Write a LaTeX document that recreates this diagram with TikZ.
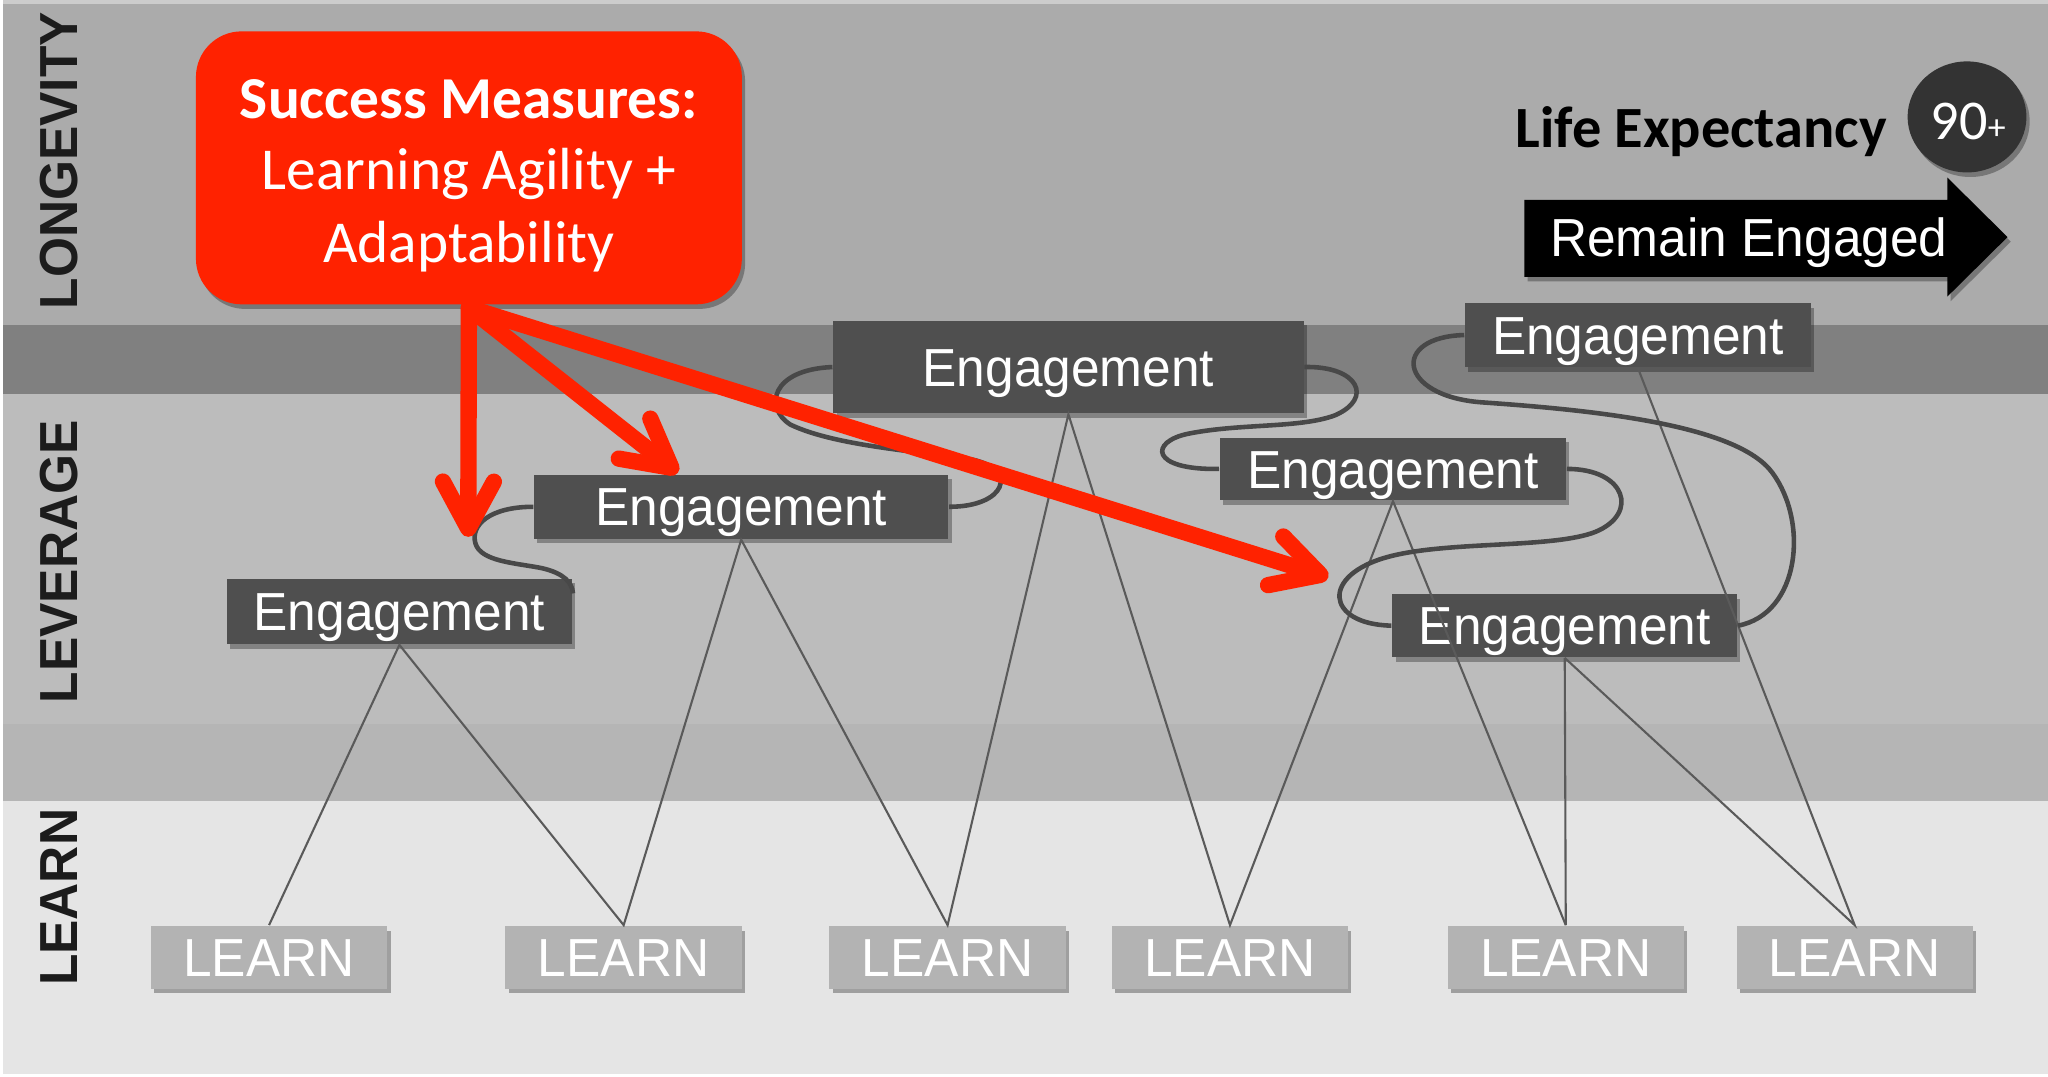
\documentclass[tikz,border=0pt]{standalone}
\usepackage{fontspec}
\setmainfont{Liberation Sans}
\newfontfamily\calfont{Carlito}
\usetikzlibrary{arrows.meta,shadows,shapes.geometric}
\definecolor{redA}{HTML}{FF2200}
\definecolor{bandTop}{HTML}{ABABAB}
\definecolor{bandDark}{HTML}{808080}
\definecolor{bandLev}{HTML}{BCBCBC}
\definecolor{bandMid}{HTML}{B5B5B5}
\definecolor{bandLearn}{HTML}{E5E5E5}
\definecolor{engFill}{HTML}{4F4F4F}
\definecolor{learnFill}{HTML}{B3B3B3}
\definecolor{lineGray}{HTML}{5A5A5A}
\definecolor{curveGray}{HTML}{484848}
\definecolor{circFill}{HTML}{333333}
\definecolor{labelInk}{HTML}{1C1C1C}
\newcommand\narrowtxt[1]{\scalebox{0.96}[1]{#1}}
\begin{document}
\begin{tikzpicture}[x=0.1mm,y=-0.1mm,
  boxshadow/.style={drop shadow={shadow xshift=0.25mm,shadow yshift=-0.35mm,opacity=0.3,fill=black}},
  arialtxt/.style={font=\fontsize{11.67pt}{14pt}\selectfont,text height=2.94mm,text depth=0pt},
  engbox/.style={fill=engFill,text=white,inner sep=0pt,minimum height=4.8mm,arialtxt,boxshadow},
  learnbox/.style={fill=learnFill,text=white,inner sep=0pt,minimum width=18.1mm,minimum height=4.8mm,arialtxt,boxshadow},
  sidelabel/.style={rotate=90,text=labelInk,inner sep=0pt,font=\fontsize{11.67pt}{14pt}\selectfont\bfseries,text height=2.94mm,text depth=0pt},
  legline/.style={draw=lineGray,line width=0.16mm},
  wiggle/.style={draw=curveGray,line width=0.35mm},
  redarrow/.style={draw=redA,line width=1.25mm,line cap=round,-{Straight Barb[length=3.6mm,width=3.9mm,round]}},
  carl/.style={anchor=base,inner sep=0pt,font=\calfont\fontsize{12.95pt}{15pt}\selectfont},
  ]
\useasboundingbox (0,0) rectangle (1568,824);
% background bands
\fill[white] (0,0) rectangle (1568,824);
\fill[bandTop] (2,0) rectangle (1568,249);
\fill[black!20] (2,0) rectangle (1568,3);
\fill[bandDark] (2,249) rectangle (1568,302);
\fill[bandLev] (2,302) rectangle (1568,554);
\fill[bandMid] (2,554) rectangle (1568,613);
\fill[bandLearn] (2,613) rectangle (1568,822);
% side labels
\node[sidelabel] (lbLong) at (45,123) {\narrowtxt{LONGEVITY}};
\node[sidelabel] (lbLev) at (45,430) {\narrowtxt{LEVERAGE}};
\node[sidelabel] (lbLearn) at (45,687) {\narrowtxt{LEARN}};
% success box
\node[fill=redA,rounded corners=3.5mm,minimum width=41.8mm,minimum height=20.9mm,inner sep=0pt,boxshadow] (succ) at (359,128.5) {};
\node[carl,text=white,font=\calfont\fontsize{12.95pt}{15pt}\selectfont\bfseries] (succT1) at (359,91) {Success Measures:};
\node[carl,text=white] (succT2) at (359,144.7) {Learning Agility +};
\node[carl,text=white] (succT3) at (359,200.6) {Adaptability};
% life expectancy
\node[carl,text=black,font=\calfont\fontsize{12.72pt}{15pt}\selectfont\bfseries] (life) at (1302.5,113) {Life Expectancy};
\node[ellipse,fill=circFill,minimum width=9.1mm,minimum height=8.5mm,inner sep=0pt,boxshadow] (ninety) at (1506,89.5) {};
\node[carl,text=white,font=\calfont\fontsize{12.23pt}{15pt}\selectfont] (ninetyT) at (1507,107) {90{\fontsize{7.8pt}{9pt}\selectfont+}};
% remain engaged arrow
\path[fill=black,boxshadow] (1167,153) -- (1491,153) -- (1491,136) -- (1537,181.5) -- (1491,227) -- (1491,212) -- (1167,212) -- cycle;
\node[text=white,inner sep=0pt,arialtxt] (remain) at (1339,182) {\narrowtxt{Remain Engaged}};
% engagement boxes
\node[engbox,minimum width=26.44mm,minimum height=5.0mm] (E1) at (305.8,468) {\narrowtxt{Engagement}};
\node[engbox,minimum width=31.7mm,minimum height=4.9mm] (E2) at (567.5,388) {\narrowtxt{Engagement}};
\node[engbox,minimum width=36mm,minimum height=7.1mm] (E3) at (818,281) {\narrowtxt{Engagement}};
\node[engbox,minimum width=26.5mm] (E4) at (1066.5,359) {\narrowtxt{Engagement}};
\node[engbox,minimum width=26.4mm] (E5) at (1198,479) {\narrowtxt{Engagement}};
\node[engbox,minimum width=26.45mm,minimum height=4.9mm] (E6) at (1254,256.5) {\narrowtxt{Engagement}};
% learn boxes
\node[learnbox] (L1) at (206,733) {\narrowtxt{LEARN}};
\node[learnbox] (L2) at (477.5,733) {\narrowtxt{LEARN}};
\node[learnbox] (L3) at (725.5,733) {\narrowtxt{LEARN}};
\node[learnbox] (L4) at (941.7,733) {\narrowtxt{LEARN}};
\node[learnbox] (L5) at (1198.8,733) {\narrowtxt{LEARN}};
\node[learnbox] (L6) at (1420,733) {\narrowtxt{LEARN}};
% thin connectors
\draw[legline] (L1.north) -- (E1.south) -- (L2.north) -- (E2.south) -- (L3.north) -- (E3.south) -- (L4.north) -- (E4.south) -- (L5.north);
\draw[legline] (E5.south) -- (L5.north);
\draw[legline] (E5.south) -- (L6.north) -- (E6.south);
% wiggly connectors
\draw[wiggle] (E2.west) .. controls (375,388) and (360,402) .. (364,416) .. controls (368,430) and (395,431) .. (415,435) .. controls (432,439) and (438,446) .. ([yshift=-1.2mm]E1.north east);
\draw[wiggle] (E2.east) .. controls (770,388) and (780,360) .. (745,352) .. controls (710,346) and (640,342) .. (605,325) .. controls (585,312) and (590,283) .. (E3.west);
\draw[wiggle] (E3.east) .. controls (1040,280) and (1052,305) .. (1022,318) .. controls (995,328) and (950,324) .. (910,332) .. controls (880,338) and (880,360) .. (E4.west);
\draw[wiggle] (E4.east) .. controls (1245,359) and (1255,393) .. (1222,407) .. controls (1190,420) and (1110,414) .. (1064,426) .. controls (1010,440) and (1015,478) .. (E5.west);
\draw[wiggle] (E5.east) .. controls (1378,470) and (1385,400) .. (1357,362) .. controls (1330,325) and (1220,314) .. (1134,308) .. controls (1070,303) and (1065,258) .. (E6.west);
% red arrows
\coordinate (src) at ([yshift=-0.2mm]succ.south);
\coordinate (tipA) at (358.5,411);
\coordinate (tipB) at (519,362);
\coordinate (tipC) at (1017,442);
\draw[redarrow] (src) -- (tipA);
\draw[redarrow] (src) -- (tipB);
\draw[redarrow] (src) -- (tipC);
\end{tikzpicture}
\end{document}
